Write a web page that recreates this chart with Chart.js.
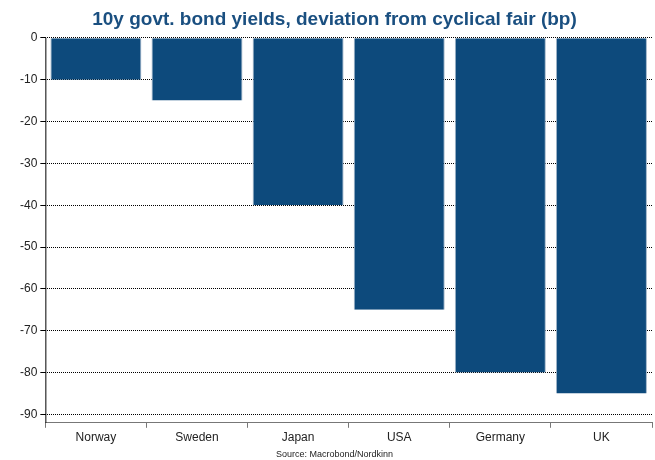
<!DOCTYPE html>
<html>
<head>
<meta charset="utf-8">
<script src="https://cdn.jsdelivr.net/npm/chart.js@4/dist/chart.umd.min.js"></script>
<style>
  html, body { margin: 0; padding: 0; background: #fff; }
  #wrap { width: 655px; height: 460px; }
</style>
</head>
<body>
<div id="wrap"><canvas id="chart" width="655" height="460"></canvas></div>
<script>
// Data
const countries = ['Norway', 'Sweden', 'Japan', 'USA', 'Germany', 'UK'];
const deviationBp = [-10, -15, -40, -65, -80, -85];

const barColor = '#0d4a7c';
const titleColor = '#1a4f80';
const font = 'Arial, "Liberation Sans", sans-serif';

// solid left axis line (grid dash would otherwise apply to it too)
const solidYAxis = {
    id: 'solidYAxis',
    afterDraw(chart) {
        const c = chart.ctx, a = chart.chartArea;
        c.save();
        c.strokeStyle = '#000';
        c.lineWidth = 1;
        c.beginPath();
        c.moveTo(a.left + 0.5, a.top);
        c.lineTo(a.left + 0.5, a.bottom);
        c.stroke();
        c.restore();
    }
};

const ctx = document.getElementById('chart');
new Chart(ctx, {
    type: 'bar',
    data: {
        labels: countries,
        datasets: [{
            label: 'Deviation (bp)',
            data: deviationBp,
            backgroundColor: barColor,
            borderColor: '#9fb4c8',
            borderWidth: { left: 1, right: 1, top: 0, bottom: 0 },
            borderSkipped: false,
            barPercentage: 0.9,
            categoryPercentage: 1.0
        }]
    },
    options: {
        responsive: false,
        animation: false,
        layout: { padding: { left: 17, right: 3, top: 0, bottom: 0 } },
        plugins: {
            legend: { display: false },
            tooltip: { enabled: false },
            title: {
                display: true,
                text: '10y govt. bond yields, deviation from cyclical fair (bp)',
                color: titleColor,
                font: { family: font, size: 19, weight: 'bold' },
                padding: { top: 8, bottom: 7 }
            },
            subtitle: {
                display: true,
                position: 'bottom',
                text: 'Source: Macrobond/Nordkinn',
                color: '#222',
                font: { family: font, size: 9 },
                padding: { top: 1, bottom: 0 }
            }
        },
        scales: {
            x: {
                offset: true,
                grid: {
                    offset: true,
                    drawOnChartArea: false,
                    drawTicks: true,
                    tickLength: 5,
                    color: '#777'
                },
                border: { display: true, color: '#777', width: 1 },
                ticks: {
                    color: '#222',
                    font: { family: font, size: 12 },
                    padding: 3
                }
            },
            y: {
                min: -92,
                max: 0,
                grid: {
                    color: '#000',
                    lineWidth: 1,
                    tickLength: 5,
                    drawTicks: true
                },
                border: { display: false, dash: [1, 1] },
                ticks: {
                    stepSize: 10,
                    includeBounds: false,
                    color: '#222',
                    font: { family: font, size: 12 },
                    padding: 3
                }
            }
        }
    },
    plugins: [solidYAxis]
});
</script>
</body>
</html>
